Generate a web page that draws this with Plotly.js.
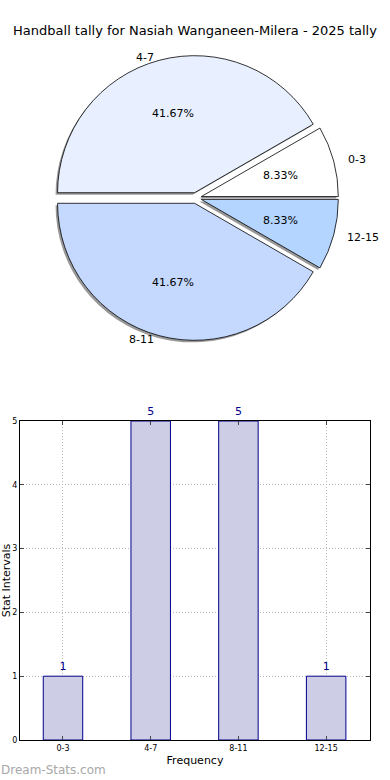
<!DOCTYPE html>
<html>
<head>
<meta charset="utf-8">
<script src="https://cdn.plot.ly/plotly-3.0.1.min.js"></script>
<style>html,body{margin:0;padding:0;background:#fff;}#chart{width:390px;height:780px;}</style>
</head>
<body>
<div id="chart"></div>
<script>
var categories = ["0-3", "4-7", "8-11", "12-15"];
var counts = [1, 5, 5, 1];
var sliceColors = ["#ffffff", "#e8f0ff", "#c5d9ff", "#b3d5ff"];
var titleText = "Handball tally for Nasiah Wanganeen-Milera - 2025 tally";

var W = 390, H = 780;
function px(x) { return x / W; }
function py(y) { return 1 - y / H; }

var pullFrac = 0.04;
var pull = categories.map(function(){ return pullFrac; });
var cx = 196, cy = 198, box = 285;
var R = box / (2 * (1 + pullFrac));
var dom = {x: [px(cx - box / 2), px(cx + box / 2)], y: [py(cy + box / 2), py(cy - box / 2)]};
var sdx = -2, sdy = 2;
var shadowDom = {x: [px(cx - box / 2 + sdx), px(cx + box / 2 + sdx)], y: [py(cy + box / 2 + sdy), py(cy - box / 2 + sdy)]};

var shadow = {
  type: "pie", labels: categories, values: counts, sort: false,
  direction: "counterclockwise", rotation: 60, pull: pull,
  marker: {colors: categories.map(function(){return "rgba(0,0,0,0.4)";}), line: {width: 0}},
  textinfo: "none", hoverinfo: "skip", showlegend: false, domain: shadowDom
};
var pie = {
  type: "pie", labels: categories, values: counts, sort: false,
  direction: "counterclockwise", rotation: 60, pull: pull,
  marker: {colors: sliceColors, line: {color: "#000000", width: 0.8}},
  textinfo: "none", hoverinfo: "skip",
  showlegend: false, domain: dom
};
var bars = {
  type: "bar", x: categories, y: counts, xaxis: "x", yaxis: "y",
  width: 0.45,
  marker: {color: "#cdcde6", line: {color: "#00008b", width: 1}},
  text: counts.map(String), textposition: "outside", cliponaxis: false,
  textfont: {family: "DejaVu Sans", size: 11, color: "#00008b"},
  showlegend: false, hoverinfo: "skip"
};

// percentage labels at 0.6 R along each slice's mid-angle (computed from the data)
var total = counts.reduce(function(a, b){ return a + b; }, 0);
var annotations = [];
var acc = 0;
counts.forEach(function(v, i) {
  var mid = (acc + v / 2) / total * 2 * Math.PI;
  acc += v;
  var ox = cx + Math.cos(mid) * R * (pullFrac + 0.6);
  var oy = cy - Math.sin(mid) * R * (pullFrac + 0.6);
  annotations.push({text: (v / total * 100).toFixed(2) + "%", xref: "paper", yref: "paper",
    x: px(ox), y: py(oy), showarrow: false, xanchor: "center", yanchor: "middle",
    font: {family: "DejaVu Sans", size: 11, color: "#000"}});
});

var labelPos = [[357, 160], [145, 58], [141, 339], [363, 237]];
categories.forEach(function(c, i) {
  annotations.push({text: c, xref: "paper", yref: "paper", x: px(labelPos[i][0]), y: py(labelPos[i][1]),
    showarrow: false, font: {family: "DejaVu Sans", size: 11, color: "#000"}, xanchor: "center", yanchor: "middle"});
});
annotations.push({text: "Dream-Stats.com", xref: "paper", yref: "paper", x: px(-1), y: py(770),
  xanchor: "left", yanchor: "middle", showarrow: false,
  font: {family: "DejaVu Sans", size: 12, color: "#a8a8a8"}});

var layout = {
  width: W, height: H, margin: {l: 0, r: 0, t: 0, b: 0},
  paper_bgcolor: "#fff", plot_bgcolor: "#fff",
  title: {text: titleText, font: {family: "DejaVu Sans", size: 13, color: "#000"}, x: 0.5, xanchor: "center", y: py(30), yanchor: "middle"},
  xaxis: {domain: [px(20), px(370)], range: [-0.49, 3.5], type: "category",
    showline: true, linecolor: "#000", linewidth: 1, mirror: "allticks", ticks: "inside", ticklen: 4,
    showgrid: true, gridcolor: "#b8b8b8", griddash: "1px,2px", gridwidth: 1, layer: "above traces",
    tickfont: {family: "DejaVu Sans", size: 8, color: "#000"}, zeroline: false,
    title: {text: "Frequency", font: {family: "DejaVu Sans", size: 11, color: "#000"}, standoff: 4}, fixedrange: true},
  yaxis: {domain: [py(740), py(421)], range: [0, 5], dtick: 1,
    showline: true, linecolor: "#000", linewidth: 1, mirror: "allticks", ticks: "inside", ticklen: 4,
    showgrid: true, gridcolor: "#b8b8b8", griddash: "1px,2px", gridwidth: 1, layer: "above traces",
    tickfont: {family: "DejaVu Sans", size: 8, color: "#000"}, zeroline: false,
    title: {text: "Stat Intervals", font: {family: "DejaVu Sans", size: 11, color: "#000"}, standoff: 0}, fixedrange: true},
  annotations: annotations
};

Plotly.newPlot("chart", [shadow, pie, bars], layout, {displayModeBar: false, staticPlot: true});
</script>
</body>
</html>
